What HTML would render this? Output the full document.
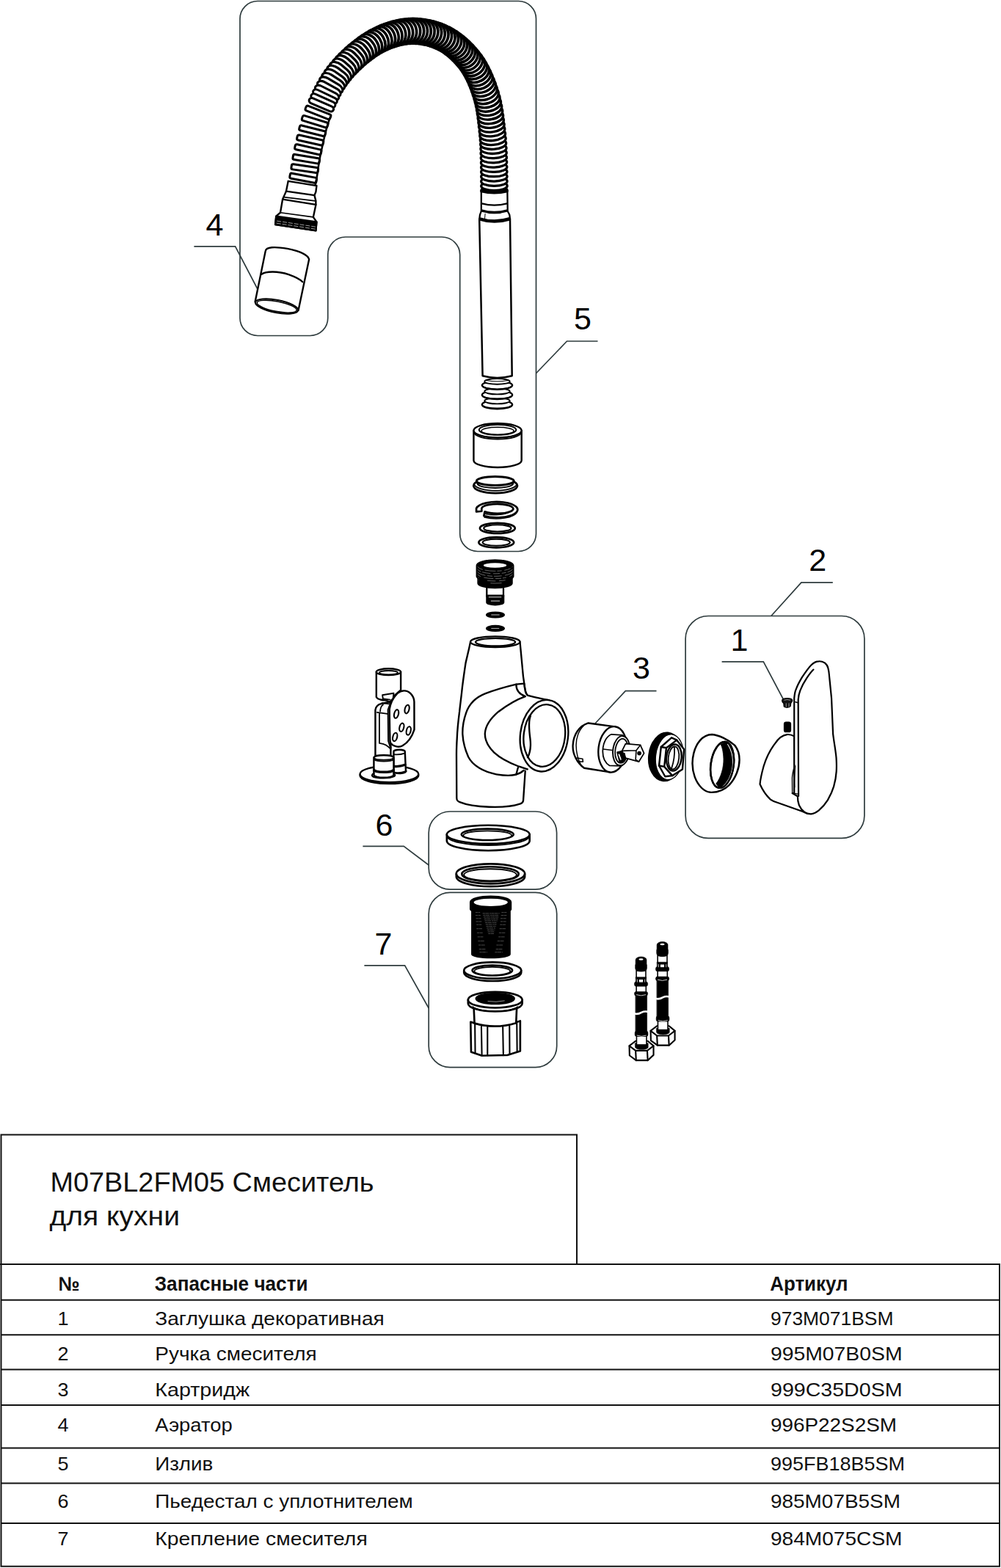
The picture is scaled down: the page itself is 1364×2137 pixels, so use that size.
<!DOCTYPE html>
<html lang="ru">
<head>
<meta charset="utf-8">
<title>M07BL2FM05 Смеситель для кухни</title>
<style>
html,body{margin:0;padding:0;background:#fff}
body{width:1364px;height:2137px;overflow:hidden}
svg{display:block}
text{font-family:"Liberation Sans",sans-serif}
.c{fill:none;stroke:#2f3c3e;stroke-width:1.7}
.num{font-size:43px;fill:#000}
</style>
</head>
<body>
<svg width="1364" height="2137" viewBox="0 0 1364 2137">
<rect width="1364" height="2137" fill="#fff"/>
<g id="callouts" class="c">
<path d="M351 1.5H706.5A24 24 0 0 1 730.5 25.5V727.5A24 24 0 0 1 706.5 751.5H650.7A24 24 0 0 1 626.7 727.5V347A24.7 24 0 0 0 602 323H470.75A24 24 0 0 0 446.75 347V433.5A24 24 0 0 1 422.75 457.5H351A24 24 0 0 1 327 433.5V25.5A24 24 0 0 1 351 1.5Z"/>
<rect x="934.1" y="839.5" width="243.8" height="302.9" rx="31" ry="31"/>
<rect x="584.2" y="1106" width="174.4" height="106.1" rx="29" ry="29"/>
<rect x="584.2" y="1216.3" width="174.5" height="238.4" rx="29" ry="29"/>
<path d="M264.4 335.9H320.6L351 394"/>
<path d="M814.5 465H772.5L730.5 508.75"/>
<path d="M1134.8 793.9H1091.9L1050.8 839.5"/>
<path d="M983.6 901.9H1040.3L1068.4 955"/>
<path d="M894.5 941.6H852.3L811 986"/>
<path d="M494.4 1153.4H550.2L584.2 1179"/>
<path d="M496.4 1315.9H551.6L584.2 1374"/>
</g>
<g id="numbers" class="num">
<text x="280.6" y="321">4</text>
<text x="782" y="448.7">5</text>
<text x="1102.2" y="777.8">2</text>
<text x="995.5" y="887.1">1</text>
<text x="862" y="924.7">3</text>
<text x="511.6" y="1138.6">6</text>
<text x="510.6" y="1301.1">7</text>
</g>
<g id="hose" fill="#fff" stroke="#000" stroke-width="3.2">
<rect stroke-width="3.20" x="-6.04" y="-17.79" width="12.08" height="35.58" rx="6.04" ry="17.30" transform="translate(673.48 259.84) rotate(89.43)"/>
<rect stroke-width="3.22" x="-6.15" y="-17.77" width="12.30" height="35.54" rx="6.15" ry="17.30" transform="translate(673.43 253.44) rotate(89.65)"/>
<rect stroke-width="3.23" x="-6.26" y="-17.75" width="12.53" height="35.49" rx="6.26" ry="17.30" transform="translate(673.39 247.04) rotate(89.70)"/>
<rect stroke-width="3.24" x="-6.38" y="-17.72" width="12.75" height="35.45" rx="6.38" ry="17.30" transform="translate(673.35 240.64) rotate(89.60)"/>
<rect stroke-width="3.25" x="-6.49" y="-17.70" width="12.98" height="35.40" rx="6.49" ry="17.30" transform="translate(673.30 234.24) rotate(89.34)"/>
<rect stroke-width="3.26" x="-6.60" y="-17.68" width="13.20" height="35.36" rx="6.60" ry="17.30" transform="translate(673.20 227.84) rotate(88.90)"/>
<rect stroke-width="3.27" x="-6.71" y="-17.66" width="13.43" height="35.31" rx="6.71" ry="17.30" transform="translate(673.05 221.44) rotate(88.28)"/>
<rect stroke-width="3.28" x="-6.83" y="-17.63" width="13.66" height="35.27" rx="6.83" ry="17.30" transform="translate(672.85 215.05) rotate(88.38)"/>
<rect stroke-width="3.29" x="-6.94" y="-17.61" width="13.88" height="35.22" rx="6.94" ry="17.30" transform="translate(672.67 208.65) rotate(88.33)"/>
<rect stroke-width="3.31" x="-7.15" y="-17.59" width="14.30" height="35.17" rx="7.15" ry="17.29" transform="translate(672.46 202.28) rotate(87.78)"/>
<rect stroke-width="3.32" x="-7.47" y="-17.55" width="14.93" height="35.11" rx="7.47" ry="17.28" transform="translate(672.16 195.95) rotate(86.79)"/>
<rect stroke-width="3.34" x="-7.78" y="-17.52" width="15.56" height="35.04" rx="7.78" ry="17.26" transform="translate(671.74 189.68) rotate(85.51)"/>
<rect stroke-width="3.35" x="-8.09" y="-17.49" width="16.18" height="34.98" rx="8.09" ry="17.25" transform="translate(671.18 183.47) rotate(84.12)"/>
<rect stroke-width="3.37" x="-8.40" y="-17.46" width="16.80" height="34.92" rx="8.40" ry="17.23" transform="translate(670.49 177.32) rotate(83.56)"/>
<rect stroke-width="3.39" x="-8.71" y="-17.43" width="17.42" height="34.86" rx="8.71" ry="17.21" transform="translate(669.81 171.22) rotate(83.63)"/>
<rect stroke-width="3.40" x="-9.01" y="-17.40" width="18.03" height="34.80" rx="9.01" ry="17.20" transform="translate(669.12 165.16) rotate(83.26)"/>
<rect stroke-width="3.42" x="-9.32" y="-17.37" width="18.63" height="34.74" rx="9.32" ry="17.18" transform="translate(668.37 159.15) rotate(82.51)"/>
<rect stroke-width="3.43" x="-9.62" y="-17.34" width="19.23" height="34.68" rx="9.62" ry="17.17" transform="translate(667.54 153.20) rotate(81.39)"/>
<rect stroke-width="3.45" x="-9.91" y="-17.31" width="19.83" height="34.62" rx="9.91" ry="17.15" transform="translate(666.57 147.32) rotate(79.97)"/>
<rect stroke-width="3.46" x="-10.21" y="-17.28" width="20.42" height="34.56" rx="10.21" ry="17.14" transform="translate(665.45 141.51) rotate(78.05)"/>
<rect stroke-width="3.48" x="-10.50" y="-17.25" width="21.01" height="34.50" rx="10.50" ry="17.12" transform="translate(664.12 135.78) rotate(75.79)"/>
<rect stroke-width="3.49" x="-10.80" y="-17.22" width="21.59" height="34.44" rx="10.80" ry="17.11" transform="translate(662.55 130.17) rotate(72.91)"/>
<rect stroke-width="3.50" x="-11.08" y="-17.19" width="22.17" height="34.39" rx="11.08" ry="17.10" transform="translate(660.78 124.67) rotate(71.58)"/>
<rect stroke-width="3.52" x="-11.37" y="-17.17" width="22.74" height="34.34" rx="11.37" ry="17.09" transform="translate(658.92 119.26) rotate(70.19)"/>
<rect stroke-width="3.53" x="-11.65" y="-17.15" width="23.31" height="34.30" rx="11.65" ry="17.08" transform="translate(656.93 113.97) rotate(68.69)"/>
<rect stroke-width="3.55" x="-11.93" y="-17.13" width="23.87" height="34.26" rx="11.93" ry="17.08" transform="translate(654.82 108.80) rotate(66.91)"/>
<rect stroke-width="3.56" x="-12.21" y="-17.11" width="24.42" height="34.22" rx="12.21" ry="17.07" transform="translate(652.57 103.75) rotate(64.92)"/>
<rect stroke-width="3.57" x="-12.48" y="-17.09" width="24.97" height="34.18" rx="12.48" ry="17.06" transform="translate(650.16 98.84) rotate(62.75)"/>
<rect stroke-width="3.59" x="-12.75" y="-17.07" width="25.51" height="34.14" rx="12.75" ry="17.06" transform="translate(647.58 94.09) rotate(60.25)"/>
<rect stroke-width="3.60" x="-13.02" y="-17.05" width="26.04" height="34.10" rx="13.02" ry="17.05" transform="translate(644.82 89.52) rotate(57.35)"/>
<rect stroke-width="3.61" x="-13.28" y="-17.03" width="26.57" height="34.06" rx="13.28" ry="17.03" transform="translate(641.84 85.15) rotate(54.04)"/>
<rect stroke-width="3.63" x="-13.55" y="-17.01" width="27.09" height="34.02" rx="13.55" ry="17.01" transform="translate(638.67 80.99) rotate(51.33)"/>
<rect stroke-width="3.64" x="-13.80" y="-16.99" width="27.61" height="33.98" rx="13.80" ry="16.99" transform="translate(635.35 77.03) rotate(48.92)"/>
<rect stroke-width="3.65" x="-14.06" y="-16.97" width="28.12" height="33.94" rx="14.06" ry="16.97" transform="translate(631.91 73.25) rotate(46.53)"/>
<rect stroke-width="3.67" x="-14.31" y="-16.95" width="28.63" height="33.90" rx="14.31" ry="16.95" transform="translate(628.36 69.66) rotate(44.13)"/>
<rect stroke-width="3.68" x="-14.56" y="-16.93" width="29.12" height="33.87" rx="14.56" ry="16.93" transform="translate(624.70 66.25) rotate(41.69)"/>
<rect stroke-width="3.69" x="-14.81" y="-16.91" width="29.62" height="33.83" rx="14.81" ry="16.91" transform="translate(620.93 63.05) rotate(39.15)"/>
<rect stroke-width="3.70" x="-15.00" y="-16.90" width="30.00" height="33.80" rx="15.00" ry="16.90" transform="translate(617.06 60.05) rotate(36.48)"/>
<rect stroke-width="3.70" x="-15.00" y="-16.90" width="30.00" height="33.80" rx="15.00" ry="16.90" transform="translate(613.06 57.24) rotate(33.58)"/>
<rect stroke-width="3.70" x="-15.00" y="-16.90" width="30.00" height="33.80" rx="15.00" ry="16.90" transform="translate(608.92 54.66) rotate(30.40)"/>
<rect stroke-width="3.70" x="-15.00" y="-16.90" width="30.00" height="33.80" rx="15.00" ry="16.90" transform="translate(604.64 52.32) rotate(26.87)"/>
<rect stroke-width="3.70" x="-15.00" y="-16.90" width="30.00" height="33.80" rx="15.00" ry="16.90" transform="translate(600.24 50.25) rotate(23.64)"/>
<rect stroke-width="3.70" x="-15.00" y="-16.90" width="30.00" height="33.80" rx="15.00" ry="16.90" transform="translate(595.74 48.42) rotate(20.65)"/>
<rect stroke-width="3.70" x="-15.00" y="-16.90" width="30.00" height="33.80" rx="15.00" ry="16.90" transform="translate(591.16 46.83) rotate(17.74)"/>
<rect stroke-width="3.70" x="-15.00" y="-16.90" width="30.00" height="33.80" rx="15.00" ry="16.90" transform="translate(586.52 45.47) rotate(14.89)"/>
<rect stroke-width="3.70" x="-15.00" y="-16.90" width="30.00" height="33.80" rx="15.00" ry="16.90" transform="translate(581.82 44.34) rotate(12.04)"/>
<rect stroke-width="3.70" x="-15.00" y="-16.90" width="30.00" height="33.80" rx="15.00" ry="16.90" transform="translate(577.07 43.45) rotate(9.15)"/>
<rect stroke-width="3.70" x="-15.00" y="-16.90" width="30.00" height="33.80" rx="15.00" ry="16.90" transform="translate(572.30 42.81) rotate(6.20)"/>
<rect stroke-width="3.70" x="-15.00" y="-16.90" width="30.00" height="33.80" rx="15.00" ry="16.90" transform="translate(567.51 42.42) rotate(3.14)"/>
<rect stroke-width="3.70" x="-15.00" y="-16.90" width="30.00" height="33.80" rx="15.00" ry="16.90" transform="translate(562.71 42.29) rotate(-0.06)"/>
<rect stroke-width="3.69" x="-14.80" y="-16.91" width="29.60" height="33.81" rx="14.80" ry="16.91" transform="translate(557.90 42.44) rotate(-3.47)"/>
<rect stroke-width="3.69" x="-14.56" y="-16.91" width="29.11" height="33.83" rx="14.56" ry="16.91" transform="translate(553.09 42.88) rotate(-6.67)"/>
<rect stroke-width="3.68" x="-14.31" y="-16.92" width="28.63" height="33.85" rx="14.31" ry="16.92" transform="translate(548.29 43.57) rotate(-9.63)"/>
<rect stroke-width="3.67" x="-14.07" y="-16.93" width="28.14" height="33.86" rx="14.07" ry="16.93" transform="translate(543.52 44.50) rotate(-12.47)"/>
<rect stroke-width="3.66" x="-13.83" y="-16.94" width="27.65" height="33.88" rx="13.83" ry="16.94" transform="translate(538.79 45.67) rotate(-15.18)"/>
<rect stroke-width="3.65" x="-13.58" y="-16.95" width="27.16" height="33.89" rx="13.58" ry="16.95" transform="translate(534.09 47.05) rotate(-17.74)"/>
<rect stroke-width="3.64" x="-13.34" y="-16.96" width="26.67" height="33.91" rx="13.34" ry="16.96" transform="translate(529.45 48.65) rotate(-20.14)"/>
<rect stroke-width="3.64" x="-13.09" y="-16.96" width="26.18" height="33.93" rx="13.09" ry="16.96" transform="translate(524.86 50.44) rotate(-22.52)"/>
<rect stroke-width="3.63" x="-12.84" y="-16.97" width="25.69" height="33.94" rx="12.84" ry="16.97" transform="translate(520.33 52.43) rotate(-24.91)"/>
<rect stroke-width="3.62" x="-12.59" y="-16.98" width="25.19" height="33.96" rx="12.59" ry="16.98" transform="translate(515.88 54.61) rotate(-27.13)"/>
<rect stroke-width="3.61" x="-12.35" y="-16.99" width="24.69" height="33.98" rx="12.35" ry="16.99" transform="translate(511.49 56.96) rotate(-29.37)"/>
<rect stroke-width="3.60" x="-12.10" y="-17.00" width="24.19" height="33.99" rx="12.10" ry="17.00" transform="translate(507.19 59.50) rotate(-31.69)"/>
<rect stroke-width="3.58" x="-11.76" y="-17.02" width="23.51" height="34.04" rx="11.76" ry="16.73" transform="translate(502.96 62.22) rotate(-33.80)"/>
<rect stroke-width="3.55" x="-11.36" y="-17.06" width="22.72" height="34.12" rx="11.36" ry="16.30" transform="translate(498.80 65.11) rotate(-35.77)"/>
<rect stroke-width="3.52" x="-10.96" y="-17.09" width="21.91" height="34.19" rx="10.96" ry="15.86" transform="translate(494.70 68.16) rotate(-37.48)"/>
<rect stroke-width="3.49" x="-10.55" y="-17.13" width="21.10" height="34.26" rx="10.55" ry="15.42" transform="translate(490.65 71.36) rotate(-39.05)"/>
<rect stroke-width="3.46" x="-10.14" y="-17.17" width="20.28" height="34.34" rx="10.14" ry="14.97" transform="translate(486.65 74.69) rotate(-40.61)"/>
<rect stroke-width="3.43" x="-9.73" y="-17.21" width="19.46" height="34.41" rx="9.73" ry="14.52" transform="translate(482.71 78.16) rotate(-42.11)"/>
<rect stroke-width="3.40" x="-9.31" y="-17.24" width="18.63" height="34.49" rx="9.31" ry="14.07" transform="translate(478.83 81.75) rotate(-43.56)"/>
<rect stroke-width="3.37" x="-8.89" y="-17.28" width="17.79" height="34.56" rx="8.89" ry="13.61" transform="translate(475.01 85.49) rotate(-45.08)"/>
<rect stroke-width="3.34" x="-8.47" y="-17.32" width="16.94" height="34.64" rx="8.47" ry="13.15" transform="translate(471.26 89.35) rotate(-46.70)"/>
<rect stroke-width="3.31" x="-8.04" y="-17.36" width="16.09" height="34.72" rx="8.04" ry="12.69" transform="translate(467.60 93.36) rotate(-48.36)"/>
<rect stroke-width="3.28" x="-7.61" y="-17.40" width="15.23" height="34.80" rx="7.61" ry="12.22" transform="translate(464.03 97.51) rotate(-50.30)"/>
<rect stroke-width="3.25" x="-7.18" y="-17.44" width="14.36" height="34.88" rx="7.18" ry="11.74" transform="translate(460.58 101.83) rotate(-52.66)"/>
<rect stroke-width="3.22" x="-6.74" y="-17.48" width="13.48" height="34.96" rx="6.74" ry="11.26" transform="translate(457.30 106.33) rotate(-55.16)"/>
<rect stroke-width="3.18" x="-6.24" y="-17.53" width="12.49" height="35.06" rx="6.24" ry="10.39" transform="translate(454.17 111.03) rotate(-57.50)"/>
<rect stroke-width="3.13" x="-5.67" y="-17.60" width="11.34" height="35.20" rx="5.67" ry="9.01" transform="translate(451.19 115.92) rotate(-59.59)"/>
<rect stroke-width="3.09" x="-5.09" y="-17.67" width="10.18" height="35.34" rx="5.09" ry="7.61" transform="translate(448.32 120.99) rotate(-61.45)"/>
<rect stroke-width="3.04" x="-4.50" y="-17.74" width="8.99" height="35.48" rx="4.50" ry="6.19" transform="translate(445.56 126.23) rotate(-63.07)"/>
<rect stroke-width="3.00" x="-3.97" y="-17.81" width="7.94" height="35.62" rx="3.97" ry="4.91" transform="translate(442.91 131.63) rotate(-64.49)"/>
<rect stroke-width="3.00" x="-3.79" y="-17.86" width="7.58" height="35.72" rx="3.79" ry="4.41" transform="translate(440.34 137.15) rotate(-65.69)"/>
<rect stroke-width="3.00" x="-3.61" y="-17.91" width="7.22" height="35.82" rx="3.61" ry="3.89" transform="translate(437.85 142.79) rotate(-66.68)"/>
<rect stroke-width="3.00" x="-3.45" y="-18.08" width="6.91" height="36.15" rx="2.38" ry="2.38" transform="translate(433.45 153.38) rotate(-68.44)"/>
<rect stroke-width="3.00" x="-3.51" y="-18.14" width="7.03" height="36.28" rx="2.20" ry="2.20" transform="translate(429.18 165.68) rotate(-72.94)"/>
<rect stroke-width="3.00" x="-3.53" y="-18.18" width="7.05" height="36.36" rx="2.20" ry="2.20" transform="translate(425.70 178.26) rotate(-75.89)"/>
<rect stroke-width="3.00" x="-3.54" y="-18.22" width="7.08" height="36.43" rx="2.20" ry="2.20" transform="translate(422.70 190.99) rotate(-77.34)"/>
<rect stroke-width="3.00" x="-3.55" y="-18.26" width="7.10" height="36.51" rx="2.20" ry="2.20" transform="translate(419.82 203.77) rotate(-77.17)"/>
<rect stroke-width="3.00" x="-3.57" y="-18.30" width="7.13" height="36.59" rx="2.20" ry="2.20" transform="translate(417.28 216.65) rotate(-80.33)"/>
<rect stroke-width="3.00" x="-3.58" y="-18.33" width="7.16" height="36.67" rx="2.20" ry="2.20" transform="translate(415.29 229.65) rotate(-81.78)"/>
<rect stroke-width="3.00" x="-3.59" y="-18.37" width="7.18" height="36.75" rx="2.20" ry="2.20" transform="translate(413.15 242.66) rotate(-79.39)"/>
<path fill="none" stroke-width="2.6" d="M429.6 252.6L430.0 250.7L430.4 248.6L430.8 246.5L431.2 244.4L431.6 242.4L431.9 240.3L432.3 238.1L432.6 236.0L432.9 233.9L433.2 231.9L433.5 229.9L433.7 228.0L434.0 226.1L434.3 224.2L434.6 222.3L434.9 220.5L435.2 218.6L435.5 216.8L435.9 214.9L436.2 213.1L436.6 211.3L436.9 209.5L437.3 207.7L437.8 205.8L438.2 203.8L438.7 201.8L439.1 199.8L439.5 197.9L440.0 195.9L440.4 194.0L440.8 192.1L441.2 190.2L441.7 188.3L442.1 186.5L442.6 184.6L443.0 182.8L443.5 180.9L443.9 179.1L444.4 177.3L444.9 175.5L445.4 173.7L445.9 172.0L446.4 170.2L447.0 168.5L447.5 166.8L448.1 165.1L448.7 163.4L449.3 161.7L449.9 160.1L450.5 158.4"/>
</g>
<g id="connL" transform="translate(360 200) scale(0.087977)" stroke="#000" stroke-linejoin="round" stroke-linecap="round" fill="#fff">
<path stroke-width="27" d="M372 532L812 603L800 700L778 752L800 840L800 900L760 1090L812 1165L800 1300L172 1205L185 1075L250 1020L285 815L300 780L340 690Z"/>
<path stroke-width="26" fill="none" d="M340 690L778 752"/>
<path stroke-width="20" fill="none" d="M300 780L795 840"/>
<path stroke-width="26" fill="none" d="M285 815L800 897"/>
<path stroke-width="18" fill="none" d="M250 1020L760 1090"/>
<path stroke-width="27" fill="#000" d="M185 1075L812 1165L800 1300L172 1205Z"/>
<path stroke-width="7" stroke="#fff" fill="none" stroke-dasharray="60 30" d="M200 1150L790 1240M195 1185L790 1275"/>
</g>
<g id="aerator" transform="translate(330 320) scale(0.087977)" stroke="#000" stroke-width="27" stroke-linejoin="round" stroke-linecap="round" fill="#fff">
<path d="M362 248C372 188 500 180 700 215C880 250 1020 310 1036 382L870 1170L200 1040Z"/>
<path fill="none" d="M300 612C360 560 560 560 720 615C830 655 900 690 935 730"/>
<ellipse cx="535" cy="1108" rx="336" ry="98" transform="rotate(11 535 1108)" stroke-width="24"/>
<ellipse cx="537" cy="1110" rx="312" ry="78" transform="rotate(11 537 1110)" stroke-width="18"/>
</g>
<g id="tube" stroke="#000" stroke-linejoin="round" stroke-linecap="round" fill="#fff">
<g transform="translate(625 480) scale(0.073314)" stroke-width="32">
<ellipse cx="716" cy="975" rx="282" ry="80"/>
<path fill="none" stroke-width="18" d="M450 985A268 62 0 0 0 982 985"/>
<ellipse cx="716" cy="905" rx="235" ry="55" stroke-width="26"/>
<ellipse cx="716" cy="795" rx="282" ry="78"/>
<path fill="none" stroke-width="18" d="M452 810A266 60 0 0 0 980 810"/>
<ellipse cx="716" cy="728" rx="235" ry="55" stroke-width="26"/>
<ellipse cx="716" cy="615" rx="282" ry="78"/>
<path fill="none" stroke-width="18" d="M452 630A266 60 0 0 0 980 630"/>
<ellipse cx="716" cy="545" rx="235" ry="52" stroke-width="26"/>
<path fill="none" stroke-width="16" d="M510 525Q716 560 920 525"/>
</g>
<path stroke-width="2.5" d="M653.2 298.6L657.6 512.3Q677.5 517.5 697.7 512.3L695 298.6Z"/>
<g transform="translate(625 240) scale(0.073314)" stroke-width="31">
<path d="M420 270L420 650L395 720L385 800Q660 860 955 800L945 720L910 650L905 270Z"/>
<path fill="none" stroke-linecap="butt" stroke-width="66" d="M420 272Q660 330 905 272"/>
<path fill="none" stroke-width="30" d="M430 510Q660 572 900 510"/>
<path fill="none" stroke-linecap="butt" stroke-width="46" d="M420 640Q660 712 910 640"/>
<path fill="none" stroke-width="10" d="M560 692H780"/>
<path fill="none" stroke-width="14" d="M492 700L485 790"/>
<path fill="none" stroke-linecap="butt" stroke-width="62" d="M390 795Q660 885 950 795"/>
</g>
</g>
<g id="sleeve" transform="translate(626 560) scale(0.073314)" stroke="#000" stroke-width="33" stroke-linejoin="round" stroke-linecap="round" fill="#fff">
<path d="M265 365L265 920A445 130 0 0 0 1155 920L1155 365Z"/>
<ellipse cx="710" cy="365" rx="445" ry="132"/>
<path fill="none" stroke-width="26" d="M272 400A438 125 0 0 0 1148 400"/>
<ellipse cx="710" cy="352" rx="345" ry="95" stroke-width="28"/>
<ellipse cx="710" cy="372" rx="300" ry="68" stroke-width="22"/>
</g>
<g id="rings5" transform="translate(616 640) scale(0.087977)" stroke="#000" stroke-width="31" stroke-linejoin="round" stroke-linecap="round" fill="#fff">
<ellipse cx="672" cy="250" rx="340" ry="114"/>
<path fill="none" stroke-width="20" d="M345 235A330 105 0 0 0 1000 235"/>
<path d="M378 176L396 228A276 66 0 0 0 942 228L958 176Z" stroke-width="22"/>
<ellipse cx="668" cy="176" rx="288" ry="68" stroke-width="36"/>

<path d="M376 600A322 122 0 1 1 492 716L507 652A245 74 0 1 0 458 602L458 645L376 652Z"/>
<path fill="none" stroke-width="18" d="M1005 655A322 122 0 0 1 500 738M520 688A245 74 0 0 0 880 660"/>
<ellipse cx="703" cy="908" rx="272" ry="80"/>
<ellipse cx="703" cy="908" rx="212" ry="52" stroke-width="24"/>
<ellipse cx="685" cy="1128" rx="272" ry="80"/>
<ellipse cx="685" cy="1128" rx="212" ry="52" stroke-width="24"/>
</g>
<g id="nipple" transform="translate(620 755) scale(0.087977)" stroke="#000" stroke-width="20" stroke-linejoin="round" stroke-linecap="round" fill="#000">
<rect x="492" y="500" width="258" height="160" fill="#fff" stroke-width="26"/>
<path d="M335 180L335 350L355 380L355 455A265 72 0 0 0 885 455L885 380L905 350L905 180A285 88 0 0 0 335 180Z"/>
<ellipse cx="620" cy="176" rx="178" ry="36" fill="#fff" stroke="none"/>
<g fill="none" stroke="#fff" stroke-width="6" opacity="0.75">
<path stroke-dasharray="90 40 160 30 60 50" d="M350 200A275 80 0 0 0 890 200"/>
<path stroke-dasharray="60 30 120 50 90 40" d="M350 240A275 80 0 0 0 890 240"/>
<path stroke-dasharray="130 40 70 30 110 60" d="M350 280A275 80 0 0 0 890 280"/>
<path stroke-dasharray="50 60 140 40 80 30" d="M352 320A275 80 0 0 0 888 320"/>
<path stroke-dasharray="0 150 120 60 90 500" d="M365 365A265 75 0 0 0 875 365"/>
<path stroke-dasharray="0 200 160 500" d="M365 400A265 75 0 0 0 875 400"/>
</g>
<path d="M490 640L490 750A132 40 0 0 0 755 750L755 640Z"/>
<path fill="none" stroke="#fff" stroke-width="10" d="M525 668H715M560 728H690"/>
<ellipse cx="625" cy="943" rx="138" ry="42"/>
<path fill="none" stroke="#fff" stroke-width="9" d="M565 943H685"/>
<ellipse cx="625" cy="1153" rx="138" ry="42"/>
<path fill="none" stroke="#fff" stroke-width="8" d="M565 1153H680"/>
</g>
<g id="body" transform="translate(600 860) scale(0.14663)" stroke="#000" stroke-width="16" stroke-linejoin="round" stroke-linecap="round" fill="#fff">
<path d="M280 100C260 200 245 250 235 300C220 400 208 480 200 560C190 650 183 700 178 750C165 850 158 920 155 1000C150 1080 150 1100 150 1150L152 1550C152 1575 160 1582 180 1590C300 1640 600 1655 745 1605C765 1598 770 1590 771 1575L790 1290L800 640C800 600 785 540 780 490L770 420C760 320 750 200 740 100Z"/>
<ellipse cx="510" cy="100" rx="230" ry="50" stroke-width="16"/>
<ellipse cx="512" cy="103" rx="185" ry="36" stroke-width="16"/>
<path d="M780 490C785 540 790 580 815 600L1010 642L930 1305L775 1292Z" stroke="none"/>
<path fill="none" d="M780 490C785 540 790 585 815 600C880 620 950 630 1010 642"/>
<path fill="none" d="M705 495L775 488M705 497C705 540 730 585 790 607"/>
<path fill="none" d="M705 495C600 520 500 550 420 580C330 615 270 670 240 760C215 830 205 900 207 960C210 1030 225 1090 260 1170C300 1250 400 1310 520 1332C600 1345 660 1345 700 1335C740 1325 770 1300 775 1295"/>
<path fill="none" d="M790 608C700 640 620 690 540 750C470 810 420 880 415 950C412 1010 440 1070 500 1130C560 1185 640 1225 720 1255C760 1268 790 1278 810 1285"/>
<path fill="none" d="M722 1270L705 1332"/>
<ellipse cx="965" cy="973" rx="222" ry="334" transform="rotate(7 965 973)"/>
<ellipse cx="967" cy="972" rx="192" ry="290" transform="rotate(7 967 972)"/>
<path fill="none" d="M838 790C820 830 822 900 835 1000C845 1080 830 1140 812 1175"/>
</g>
<g id="valve" transform="translate(480 900) scale(0.080645)" stroke="#000" stroke-width="30" stroke-linejoin="round" stroke-linecap="round" fill="#fff">
<!-- base disc -->
<ellipse cx="625" cy="1945" rx="495" ry="140"/>
<ellipse cx="625" cy="1922" rx="495" ry="138"/>
<!-- right fitting -->
<path d="M700 1540L700 1880A100 35 0 0 0 905 1870L890 1540A95 30 0 0 0 700 1540Z"/>
<path fill="none" stroke-width="40" d="M705 1790Q800 1800 895 1765"/>
<path fill="none" stroke-width="22" d="M705 1590Q800 1600 885 1570"/>
<path fill="none" stroke-width="22" d="M720 1900Q830 1905 915 1870"/>
<!-- column -->
<path d="M390 1610L390 840C395 790 430 745 500 730L640 700L650 1500L650 1610Z"/>
<path fill="none" stroke-width="22" d="M458 885V1400L520 1412C570 1425 610 1455 650 1500M420 880L595 905M472 860C475 800 490 770 520 750"/>
<!-- top cylinder -->
<path d="M407 195V620C430 660 520 690 640 660L820 500V195Z"/>
<path d="M510 585L700 555L690 640L640 700L520 660Z" stroke-width="24"/>
<path fill="none" stroke-width="22" d="M530 650L640 665M500 720L620 735"/>
<ellipse cx="613" cy="195" rx="206" ry="55" stroke-width="30"/>
<ellipse cx="613" cy="207" rx="155" ry="33" stroke-width="24"/>
<!-- plate -->
<path d="M628 830C640 740 685 640 760 560C830 500 920 495 985 560C1030 605 1045 650 1047 700L1048 1170C1010 1290 940 1390 850 1442C790 1475 700 1460 650 1400C640 1380 636 1350 636 1330Z"/>
<g stroke-width="26">
<ellipse cx="925" cy="825" rx="36" ry="74" transform="rotate(14 925 825)"/>
<ellipse cx="745" cy="905" rx="36" ry="74" transform="rotate(14 745 905)"/>
<ellipse cx="835" cy="1132" rx="36" ry="72" transform="rotate(14 835 1132)"/>
<ellipse cx="952" cy="1190" rx="36" ry="72" transform="rotate(14 952 1190)"/>
<ellipse cx="722" cy="1295" rx="36" ry="72" transform="rotate(14 722 1295)"/>
</g>
<path fill="#333" stroke-width="18" d="M600 835L628 760L640 1385L655 1480L640 1470L606 1365Z"/>
<!-- left fitting -->
<path d="M365 1640L365 1940A168 45 0 0 0 700 1940L700 1640A168 40 0 0 0 365 1640Z"/>
<path fill="none" stroke-width="22" d="M370 1650A165 38 0 0 0 695 1650M372 1675A165 38 0 0 0 695 1675"/>
<path fill="none" stroke-width="44" d="M368 1850A165 38 0 0 0 698 1850"/>
<path fill="none" stroke-width="26" d="M365 1910C330 1925 325 1950 350 1965C430 2000 620 2000 710 1960C730 1945 725 1925 700 1915"/>
</g>
<g id="cartridge" transform="translate(775 975) scale(0.080645)" stroke="#000" stroke-width="29" stroke-linejoin="round" stroke-linecap="round" fill="#fff">
<path d="M330 130L780 190C900 240 960 400 950 600C940 780 850 930 700 960L260 890C140 800 60 650 70 500C80 330 170 180 330 130Z"/>
<path fill="none" stroke-width="18" d="M250 175C170 250 125 380 125 500C125 620 160 750 205 835"/>
<path fill="none" stroke-width="20" d="M135 720L235 735L240 785L170 778"/>
<ellipse cx="740" cy="575" rx="238" ry="388" transform="rotate(6 740 575)"/>
<path d="M720 320L905 332C1000 380 1020 480 1010 620C1000 740 950 830 880 855L690 848C610 800 570 700 575 590C580 470 630 360 720 320Z" stroke-width="22"/>
<path fill="none" stroke-width="18" d="M585 570L760 592"/>
<ellipse cx="888" cy="598" rx="142" ry="250" transform="rotate(6 888 598)" stroke-width="24"/>
<ellipse cx="893" cy="600" rx="108" ry="205" transform="rotate(6 893 600)" stroke-width="22"/>
<path fill="#000" stroke-width="14" d="M815 620L900 600L960 740L930 790L860 800Z"/>
<path fill="#fff" stroke-width="14" d="M825 650L860 640L900 750L870 765Z"/>
<path d="M960 480L1210 502L1272 640L1185 782L960 722L900 600Z" stroke-width="22"/>
<path fill="none" stroke-width="20" d="M900 600L1140 592L1210 502M1140 592L1130 745L1185 782M960 722L940 640"/>
<circle cx="1192" cy="640" r="36" fill="#000" stroke="none"/>
</g>
<g id="nut" transform="translate(870 985) scale(0.10997)" stroke="#000" stroke-width="22" stroke-linejoin="round" stroke-linecap="round" fill="#fff">
<ellipse cx="335" cy="422" rx="205" ry="298" transform="rotate(6 335 422)" fill="#000"/>
<ellipse cx="385" cy="425" rx="172" ry="282" transform="rotate(6 385 425)" stroke-width="12"/>
<path d="M280 300L410 185L475 215L565 330L545 578L420 656L330 666L255 532Z"/>
<path fill="none" d="M280 300L345 312L475 215M345 312L320 545L420 656M320 545L255 532"/>
<ellipse cx="440" cy="432" rx="93" ry="165" transform="rotate(6 440 432)"/>
<ellipse cx="436" cy="436" rx="66" ry="142" transform="rotate(6 436 436)" stroke-width="16"/>
<path fill="none" stroke-width="16" d="M445 300C450 380 440 480 410 565"/>
</g>
<g id="cap" transform="translate(935 990) scale(0.073314)" stroke="#000" stroke-width="33" stroke-linejoin="round" stroke-linecap="round" fill="#fff">
<path d="M480 150C600 160 780 240 900 350C960 420 990 520 990 620C990 780 920 960 800 1090C700 1190 560 1230 450 1225C330 1215 220 1100 160 940C110 800 105 640 140 500C180 330 300 150 480 150Z"/>
<ellipse cx="670" cy="715" rx="212" ry="432" transform="rotate(8 670 715)"/>
<path fill="#000" stroke-width="10" d="M730 287A212 432 8 0 1 610 1143L555 1065C650 950 700 750 695 600C690 480 670 380 640 335Z"/>
<path fill="none" stroke="#fff" stroke-width="14" d="M770 330C850 450 880 600 860 760C840 900 770 1040 680 1120"/>
<ellipse cx="670" cy="715" rx="212" ry="432" transform="rotate(8 670 715)" fill="none"/>
</g>
<g id="handle" transform="translate(1015 890) scale(0.102637)" stroke="#000" stroke-width="21.5" stroke-linejoin="round" stroke-linecap="round" fill="#fff">
<!-- dome base -->
<path d="M655 1105C620 1085 585 1080 560 1082C500 1090 440 1140 400 1202C340 1280 290 1370 250 1500C225 1590 205 1680 200 1742C230 1810 270 1880 340 1945C380 1975 420 1985 450 1992L760 2102L830 2132L700 1900L660 1500Z"/>
<!-- lever -->
<path d="M655 1862L655 600C660 540 670 500 680 480C700 420 730 370 760 320C800 260 840 200 880 160C910 130 950 110 980 110C1010 108 1040 118 1060 130C1085 150 1100 175 1105 200C1115 240 1118 270 1120 300L1150 600L1170 1072C1185 1200 1215 1350 1215 1422C1218 1480 1218 1520 1215 1572C1210 1650 1195 1720 1180 1772C1160 1840 1130 1900 1100 1952C1070 2000 1030 2050 980 2092C950 2115 915 2135 880 2137C850 2138 815 2130 790 2112C760 2090 735 2055 720 2022C705 1980 700 1940 700 1902L630 1862Z"/>
<path fill="none" d="M712 1900L708 620C712 560 725 520 735 495C760 430 790 380 820 335C850 290 880 250 910 220"/>
<path fill="none" stroke-width="14" d="M662 1490C640 1560 630 1610 628 1660L630 1860L705 1872M668 1500C660 1600 655 1700 660 1780"/>
<path fill="none" stroke-width="14" d="M670 650L705 660"/>
<!-- plug -->
<path fill="#111" stroke-width="14" d="M495 625C500 595 620 590 630 625C632 650 615 660 610 665L605 705C590 725 545 730 520 710L515 665C505 660 493 645 495 625Z"/>
<path fill="none" stroke="#fff" stroke-width="7" opacity="0.8" d="M525 625Q562 612 600 625M548 670V715M585 670V712"/>
<rect x="520" y="915" width="90" height="135" rx="28" ry="28" fill="#000" stroke-width="10"/>
</g>
<g id="box6parts" transform="translate(580 1100) scale(0.139296)" stroke="#000" stroke-width="19" stroke-linejoin="round" stroke-linecap="round" fill="#fff">
<path d="M207 268V330A405 95 0 0 0 1017 330V268Z"/>
<ellipse cx="612" cy="268" rx="405" ry="90"/>
<path fill="none" stroke-width="14" d="M212 285A400 88 0 0 0 1012 285"/>
<ellipse cx="605" cy="268" rx="255" ry="55"/>
<ellipse cx="605" cy="276" rx="236" ry="44" stroke-width="13"/>
<path d="M300 655V680A335 96 0 0 0 970 680V655Z"/>
<ellipse cx="635" cy="652" rx="335" ry="97"/>
<ellipse cx="632" cy="655" rx="278" ry="72"/>
<ellipse cx="632" cy="663" rx="258" ry="58" stroke-width="14"/>
</g>
<g id="box7parts" transform="translate(580 1210) scale(0.139296)" stroke="#000" stroke-width="19" stroke-linejoin="round" stroke-linecap="round" fill="#fff">
<path fill="#000" d="M440 140V210L455 225V650A183 32 0 0 0 822 650V225L832 210V140A196 55 0 0 0 440 140Z"/>
<ellipse cx="637" cy="142" rx="166" ry="37" stroke="none"/>
<g fill="none" stroke="#fff" stroke-width="3.5" opacity="0.6" stroke-dasharray="18 9 30 12 10 8">
<path d="M560 250H720M565 268H715M570 286H710M575 304H705M580 322H700M585 340H695M590 358H690M595 376H685M600 394H680M605 412H675M610 430H670M615 448H665"/>
<path d="M490 240H530M490 270H535M495 300H540M495 330H545M500 360H545M500 400H550M505 440H555M510 480H560M515 520H570M520 560H580M525 600H590M530 630H600"/>
<path d="M745 240H790M740 270H790M735 300H785M735 330H785M730 360H780M725 400H780M720 440H775M715 480H770M705 520H765M695 560H760M690 600H755M680 630H750"/>
</g>
<path d="M375 810V830A280 82 0 0 0 935 830V810Z"/>
<ellipse cx="655" cy="808" rx="280" ry="80"/>
<ellipse cx="652" cy="808" rx="196" ry="50"/>
<ellipse cx="652" cy="815" rx="176" ry="40" stroke-width="13"/>
<!-- nut -->
<path d="M440 1312L445 1606L550 1642L800 1637L925 1597L925 1302Q680 1400 440 1312Z"/>
<path fill="none" stroke-width="15" d="M482 1335L485 1618M545 1355L550 1640M605 1362V1640M755 1362L760 1638M820 1352L822 1630M892 1322L895 1608"/>
<path d="M470 1150L478 1325Q680 1385 885 1322L892 1150Z"/>
<path d="M415 1096V1130A265 80 0 0 0 945 1130V1096Z"/>
<path fill="none" stroke-width="13" d="M460 1165A230 60 0 0 0 900 1165"/>
<ellipse cx="680" cy="1096" rx="265" ry="78"/>
<ellipse cx="680" cy="1084" rx="186" ry="50" fill="#000"/>
<path fill="none" stroke="#fff" stroke-width="6" opacity="0.7" d="M610 1110Q690 1122 770 1105"/>
</g>
<g id="flex" transform="translate(845 1270) scale(0.065982)" stroke="#000" stroke-linejoin="round" stroke-linecap="round">
<g transform="translate(440 -310)">
<path fill="#fff" stroke-width="32" d="M190 2354L320 2254H570L690 2354V2544L570 2654H330L195 2554Z"/>
<path fill="none" stroke-width="32" d="M190 2354L320 2454H560L690 2354M320 2454L330 2654M560 2454L570 2654"/>
<path fill="#000" stroke-width="10" d="M312 2300H578V2385A133 45 0 0 1 312 2385Z"/>
<rect x="340" y="2150" width="205" height="190" fill="#fff" stroke-width="24"/>
<path fill="#000" stroke-width="10" d="M340 2330H545V2380A102 30 0 0 1 340 2380Z"/>
<rect x="320" y="1300" width="235" height="790" fill="#000" stroke-width="8"/>
<rect x="305" y="2050" width="270" height="110" rx="35" fill="#000" stroke-width="8"/>
<path fill="none" stroke="#fff" stroke-width="12" d="M350 2140Q440 2175 535 2140"/>
<path fill="none" stroke="#fff" stroke-width="40" d="M300 1690C360 1705 400 1690 440 1665C490 1640 530 1640 575 1650"/>
<rect x="335" y="1110" width="200" height="160" fill="#fff" stroke-width="24"/>
<rect x="295" y="1235" width="275" height="85" rx="35" fill="#000" stroke-width="8"/>
<path fill="none" stroke="#fff" stroke-width="12" d="M340 1300Q432 1335 525 1300"/>
<rect x="335" y="800" width="195" height="160" fill="#fff" stroke-width="24"/>
<rect x="325" y="935" width="215" height="130" fill="#000" stroke-width="8"/>
<rect x="295" y="1030" width="275" height="95" rx="38" fill="#000" stroke-width="8"/>
<rect x="392" y="985" width="78" height="55" fill="#fff" stroke="none"/>
<path fill="none" stroke="#fff" stroke-width="14" d="M355 985V1035M510 985V1035" opacity="0.8"/>
<path fill="#000" stroke-width="10" d="M320 575A112 60 0 0 1 545 575V780A112 40 0 0 1 320 780Z"/>
<rect x="310" y="660" width="245" height="120" rx="30" fill="#000" stroke="none"/>
<ellipse cx="432" cy="568" rx="47" ry="19" fill="#fff" stroke="none"/>
</g>
<g transform="translate(0 0)">
<path fill="#fff" stroke-width="32" d="M190 2354L320 2254H570L690 2354V2544L570 2654H330L195 2554Z"/>
<path fill="none" stroke-width="32" d="M190 2354L320 2454H560L690 2354M320 2454L330 2654M560 2454L570 2654"/>
<path fill="#000" stroke-width="10" d="M312 2300H578V2385A133 45 0 0 1 312 2385Z"/>
<rect x="340" y="2150" width="205" height="190" fill="#fff" stroke-width="24"/>
<path fill="#000" stroke-width="10" d="M340 2330H545V2380A102 30 0 0 1 340 2380Z"/>
<rect x="320" y="1300" width="235" height="790" fill="#000" stroke-width="8"/>
<rect x="305" y="2050" width="270" height="110" rx="35" fill="#000" stroke-width="8"/>
<path fill="none" stroke="#fff" stroke-width="12" d="M350 2140Q440 2175 535 2140"/>
<path fill="none" stroke="#fff" stroke-width="40" d="M300 1690C360 1705 400 1690 440 1665C490 1640 530 1640 575 1650"/>
<rect x="335" y="1110" width="200" height="160" fill="#fff" stroke-width="24"/>
<rect x="295" y="1235" width="275" height="85" rx="35" fill="#000" stroke-width="8"/>
<path fill="none" stroke="#fff" stroke-width="12" d="M340 1300Q432 1335 525 1300"/>
<rect x="335" y="800" width="195" height="160" fill="#fff" stroke-width="24"/>
<rect x="325" y="935" width="215" height="130" fill="#000" stroke-width="8"/>
<rect x="295" y="1030" width="275" height="95" rx="38" fill="#000" stroke-width="8"/>
<rect x="392" y="985" width="78" height="55" fill="#fff" stroke="none"/>
<path fill="none" stroke="#fff" stroke-width="14" d="M355 985V1035M510 985V1035" opacity="0.8"/>
<path fill="#000" stroke-width="10" d="M320 575A112 60 0 0 1 545 575V780A112 40 0 0 1 320 780Z"/>
<rect x="310" y="660" width="245" height="120" rx="30" fill="#000" stroke="none"/>
<ellipse cx="432" cy="568" rx="47" ry="19" fill="#fff" stroke="none"/>
</g>
</g>
<g id="table">
<g fill="none" stroke="#111" stroke-width="2">
<path d="M1.5 1723V1546.5H786V1723"/>
<path d="M1.5 1722.5V2134.7H1362V1723H0"/>
<path d="M1 1771.75H1362M1 1819.25H1362M1 1866.5H1362M1 1915H1362M1 1973.5H1362M1 2021.4H1362M1 2076.1H1362"/>
</g>
<g fill="#111" font-size="36">
<text x="68.5" y="1624.2" textLength="441" lengthAdjust="spacingAndGlyphs">M07BL2FM05 Смеситель</text>
<text x="67.5" y="1669.5" textLength="177.5" lengthAdjust="spacingAndGlyphs">для кухни</text>
</g>
<g fill="#111" font-size="26.8" font-weight="bold">
<text x="79.5" y="1758.75" textLength="29" lengthAdjust="spacingAndGlyphs">№</text>
<text x="210.75" y="1758.75" textLength="208.75" lengthAdjust="spacingAndGlyphs">Запасные части</text>
<text x="1049.25" y="1758.75" textLength="106.25" lengthAdjust="spacingAndGlyphs">Артикул</text>
</g>
<g fill="#111" font-size="26.5">
<text x="78.6" y="1806.25" textLength="15" lengthAdjust="spacingAndGlyphs">1</text>
<text x="211.25" y="1806.25" textLength="312.5" lengthAdjust="spacingAndGlyphs">Заглушка декоративная</text>
<text x="1050" y="1806.25" textLength="167.5" lengthAdjust="spacingAndGlyphs">973M071BSM</text>
<text x="78.6" y="1854.25" textLength="15" lengthAdjust="spacingAndGlyphs">2</text>
<text x="211.25" y="1854.25" textLength="220.5" lengthAdjust="spacingAndGlyphs">Ручка смесителя</text>
<text x="1050" y="1854.25" textLength="179.5" lengthAdjust="spacingAndGlyphs">995M07B0SM</text>
<text x="78.6" y="1902.5" textLength="15" lengthAdjust="spacingAndGlyphs">3</text>
<text x="211.25" y="1902.5" textLength="129" lengthAdjust="spacingAndGlyphs">Картридж</text>
<text x="1050" y="1902.5" textLength="179.5" lengthAdjust="spacingAndGlyphs">999C35D0SM</text>
<text x="78.6" y="1950.75" textLength="15" lengthAdjust="spacingAndGlyphs">4</text>
<text x="211.25" y="1950.75" textLength="105.5" lengthAdjust="spacingAndGlyphs">Аэратор</text>
<text x="1050" y="1950.75" textLength="172" lengthAdjust="spacingAndGlyphs">996P22S2SM</text>
<text x="78.6" y="2004.25" textLength="15" lengthAdjust="spacingAndGlyphs">5</text>
<text x="211.25" y="2004.25" textLength="79" lengthAdjust="spacingAndGlyphs">Излив</text>
<text x="1050" y="2004.25" textLength="183" lengthAdjust="spacingAndGlyphs">995FB18B5SM</text>
<text x="78.6" y="2054.5" textLength="15" lengthAdjust="spacingAndGlyphs">6</text>
<text x="211.25" y="2054.5" textLength="351.5" lengthAdjust="spacingAndGlyphs">Пьедестал с уплотнителем</text>
<text x="1050" y="2054.5" textLength="177" lengthAdjust="spacingAndGlyphs">985M07B5SM</text>
<text x="78.6" y="2106" textLength="15" lengthAdjust="spacingAndGlyphs">7</text>
<text x="211.25" y="2106" textLength="289.5" lengthAdjust="spacingAndGlyphs">Крепление смесителя</text>
<text x="1050" y="2106" textLength="179.5" lengthAdjust="spacingAndGlyphs">984M075CSM</text>
</g>
</g>
</svg>
</body>
</html>
